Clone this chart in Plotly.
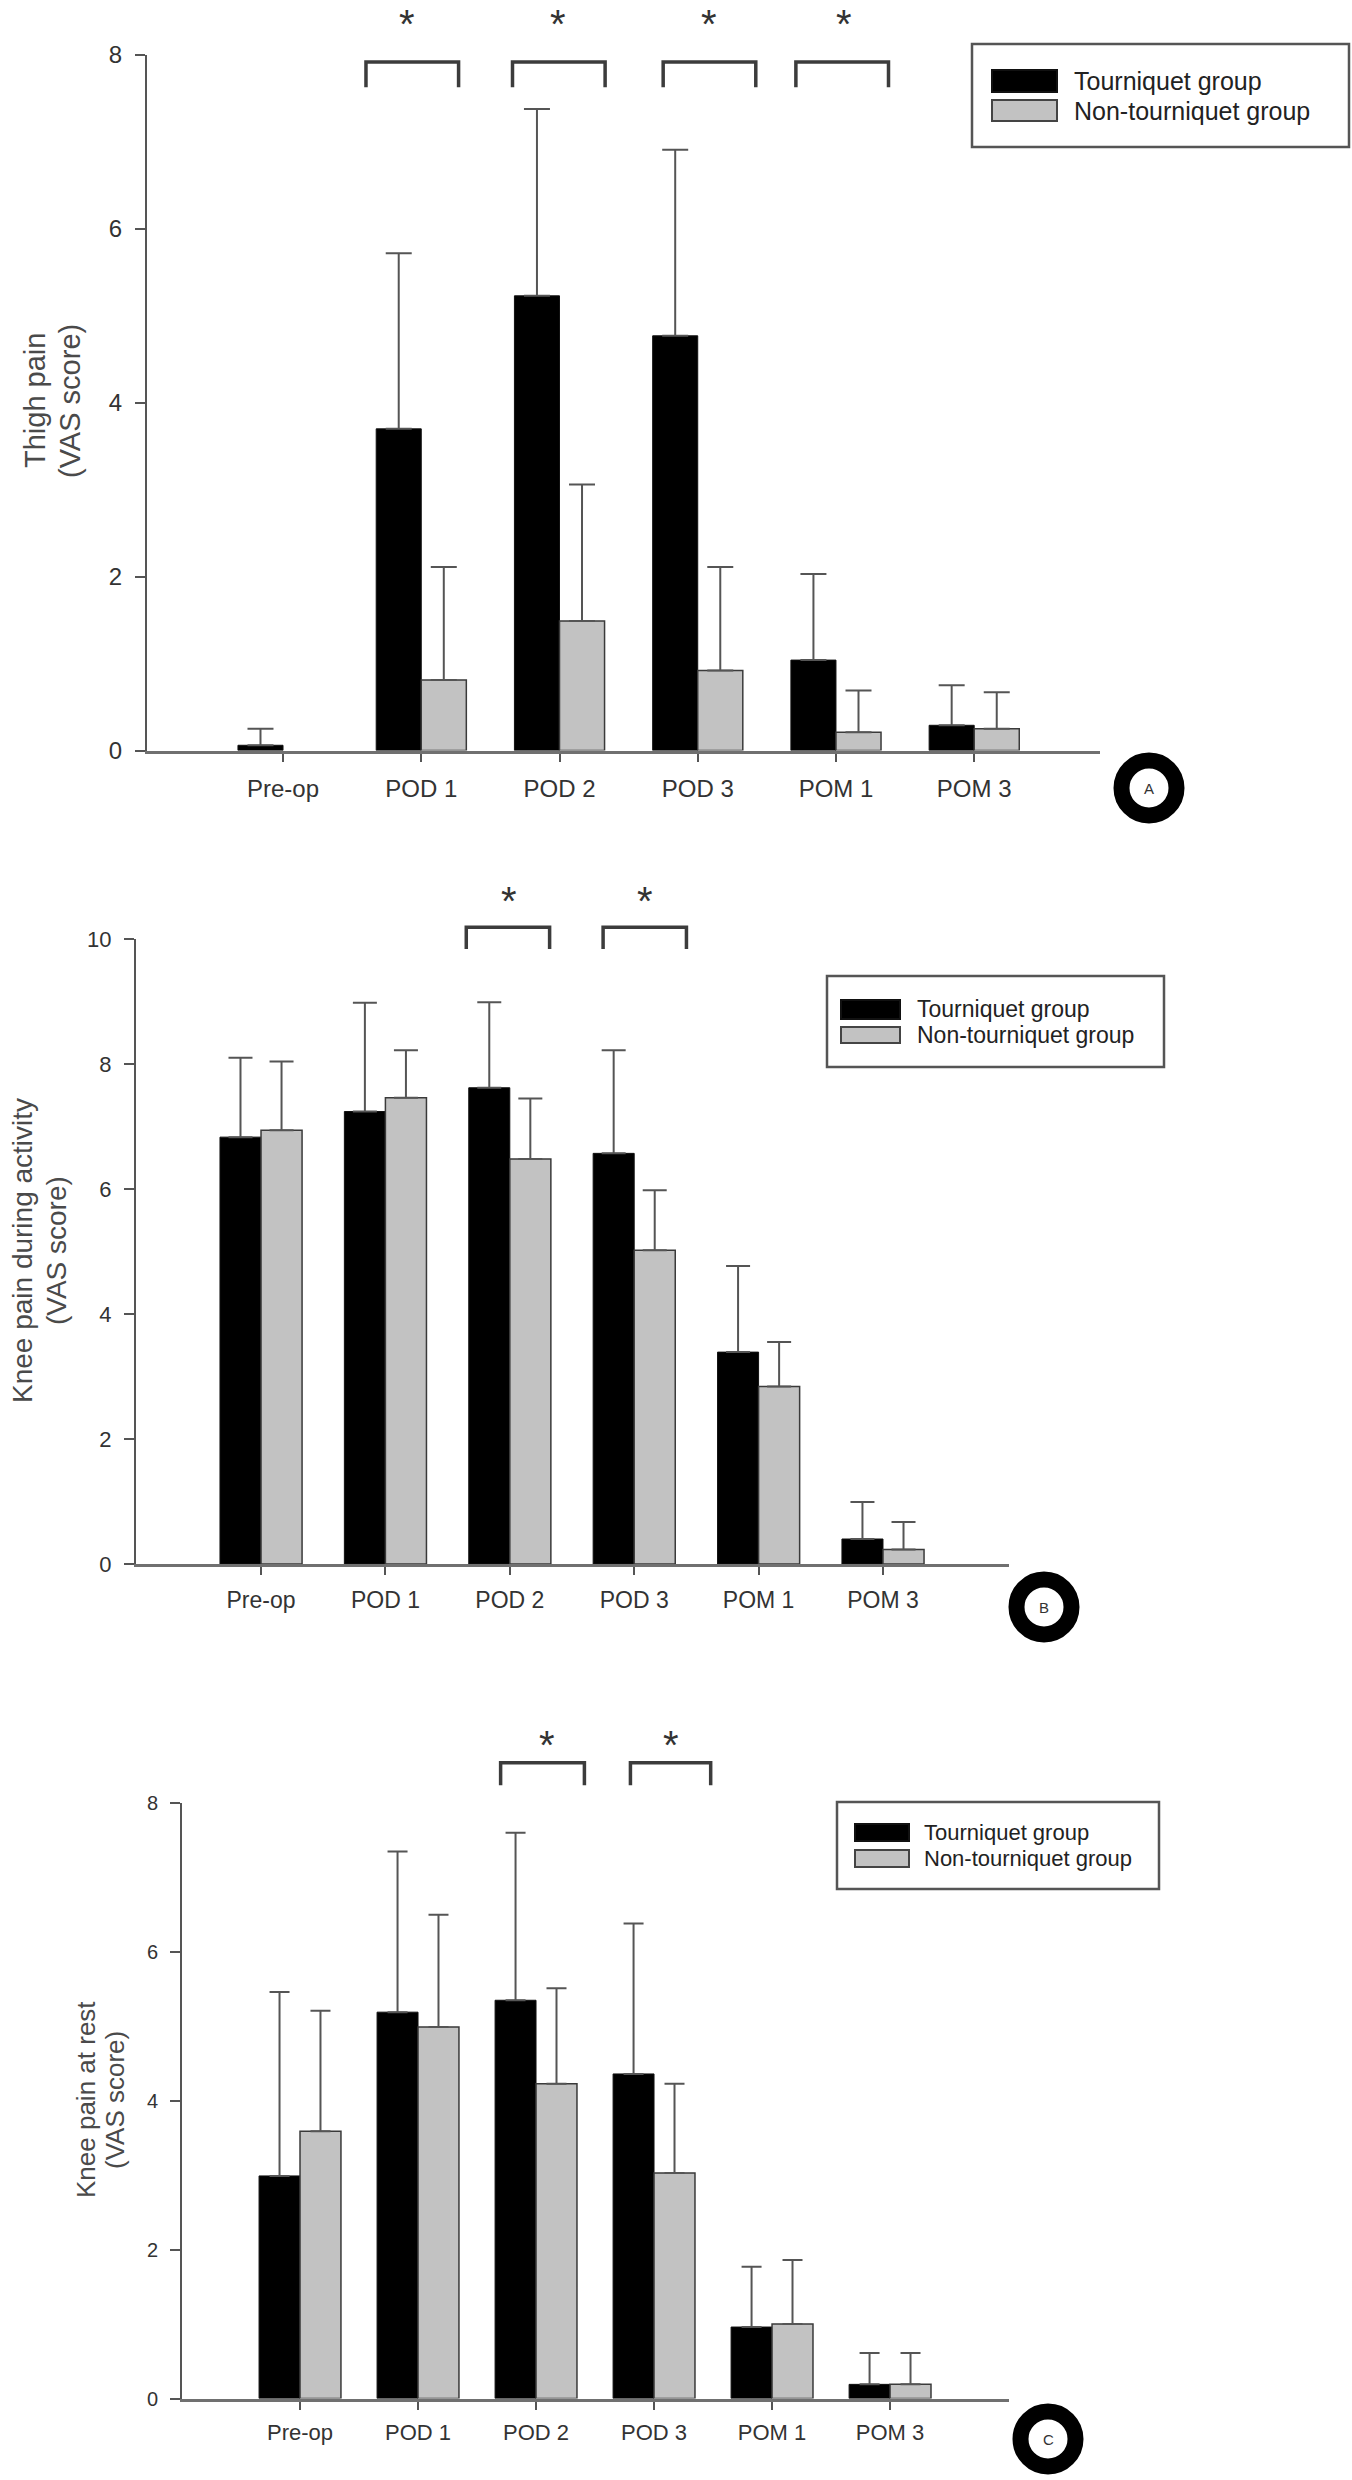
import plotly.graph_objects as go

W, H = 1352, 2480
FONT = "Liberation Sans, Arial, sans-serif"

# ---------------- data ----------------
categories = ["Pre-op", "POD 1", "POD 2", "POD 3", "POM 1", "POM 3"]
group_names = ["Tourniquet group", "Non-tourniquet group"]

# (A) Thigh pain (VAS)
thigh_tq = [0.06, 3.70, 5.23, 4.77, 1.04, 0.29]
thigh_tq_sd = [0.19, 2.02, 2.15, 2.14, 0.99, 0.46]
thigh_ntq = [None, 0.81, 1.49, 0.92, 0.21, 0.25]
thigh_ntq_sd = [None, 1.30, 1.57, 1.19, 0.48, 0.42]

# (B) Knee pain during activity (VAS)
act_tq = [6.83, 7.24, 7.62, 6.57, 3.39, 0.40]
act_tq_sd = [1.27, 1.74, 1.37, 1.65, 1.38, 0.59]
act_ntq = [6.94, 7.46, 6.48, 5.02, 2.84, 0.23]
act_ntq_sd = [1.10, 0.76, 0.97, 0.96, 0.71, 0.44]

# (C) Knee pain at rest (VAS)
rest_tq = [2.99, 5.19, 5.35, 4.36, 0.96, 0.19]
rest_tq_sd = [2.47, 2.16, 2.25, 2.02, 0.81, 0.42]
rest_ntq = [3.59, 4.99, 4.23, 3.03, 1.00, 0.19]
rest_ntq_sd = [1.62, 1.51, 1.28, 1.20, 0.86, 0.42]

# significance brackets (category units) and stars
thigh_sig_left = [0.60, 1.66, 2.75, 3.71]
thigh_sig_right = [1.27, 2.33, 3.42, 4.38]
thigh_star_x = [0.90, 1.99, 3.08, 4.06]
act_sig_left = [1.65, 2.75]
act_sig_right = [2.32, 3.42]
act_star_x = [1.99, 3.09]
rest_sig_left = [1.70, 2.80]
rest_sig_right = [2.41, 3.48]
rest_star_x = [2.09, 3.14]

y_ticks_a = [0, 2, 4, 6, 8]
y_ticks_b = [0, 2, 4, 6, 8, 10]
y_ticks_c = [0, 2, 4, 6, 8]

# ---------------- layout config ----------------
panels = [
    dict(sfx="", tq=thigh_tq, tq_sd=thigh_tq_sd, ntq=thigh_ntq, ntq_sd=thigh_ntq_sd,
         sl=thigh_sig_left, sr=thigh_sig_right, sx=thigh_star_x, yticks=y_ticks_a,
         xpx=(147, 1100), ypx=(750.5, 55), ymax=8, xr=[-0.984, 5.91], bw=0.326, cap=13,
         tfs=24, xfs=24, xso=7, br=(7.92, 7.63, 8.44),
         title=["Thigh pain", "(VAS score)"], tx=[35, 70], ty=401, tsz=29,
         leg=dict(box=(972, 44, 1349, 147), sw=(992, 1057), rows=[(70, 92), (100, 121)], tx=1072, fs=25),
         circ=(1149, 788, "A")),
    dict(sfx="2", tq=act_tq, tq_sd=act_tq_sd, ntq=act_ntq, ntq_sd=act_ntq_sd,
         sl=act_sig_left, sr=act_sig_right, sx=act_star_x, yticks=y_ticks_b,
         xpx=(136, 1009), ypx=(1564, 939), ymax=10, xr=[-1.005, 6.013], bw=0.33, cap=12,
         tfs=22, xfs=23, xso=5, br=(10.19, 9.84, 10.72),
         title=["Knee pain during activity", "(VAS score)"], tx=[22, 56], ty=1251, tsz=28,
         leg=dict(box=(827, 976, 1164, 1067), sw=(841, 900), rows=[(1000, 1019), (1027, 1043)], tx=915, fs=23),
         circ=(1044, 1607, "B")),
    dict(sfx="3", tq=rest_tq, tq_sd=rest_tq_sd, ntq=rest_ntq, ntq_sd=rest_ntq_sd,
         sl=rest_sig_left, sr=rest_sig_right, sx=rest_star_x, yticks=y_ticks_c,
         xpx=(182, 1009), ypx=(2398.5, 1803), ymax=8, xr=[-1.0, 6.008], bw=0.347, cap=10,
         tfs=20, xfs=22, xso=4, br=(8.54, 8.24, 8.87),
         title=["Knee pain at rest", "(VAS score)"], tx=[86, 115], ty=2100, tsz=26,
         leg=dict(box=(837, 1802, 1159, 1889), sw=(855, 909), rows=[(1824, 1841), (1850, 1867)], tx=922, fs=22),
         circ=(1048, 2439, "C")),
]


def px(x):
    return x / W


def py(y):
    return 1 - y / H


fig = go.Figure()
shapes, annots = [], []
layout_axes = {}

for p in panels:
    xa, ya = "x" + p["sfx"], "y" + p["sfx"]
    w = p["bw"]
    xs = list(range(len(categories)))
    fig.add_trace(go.Bar(
        x=xs, y=p["tq"], width=w, offset=-w, name=group_names[0],
        marker=dict(color="#000000", line=dict(color="#111111", width=1)),
        error_y=dict(type="data", symmetric=False, array=p["tq_sd"],
                     arrayminus=[0] * len(xs), color="#555555", thickness=2, width=p["cap"]),
        xaxis=xa, yaxis=ya, showlegend=False))
    fig.add_trace(go.Bar(
        x=xs, y=p["ntq"], width=w, offset=0, name=group_names[1],
        marker=dict(color="#c2c2c2", line=dict(color="#3a3a3a", width=1.5)),
        error_y=dict(type="data", symmetric=False, array=p["ntq_sd"],
                     arrayminus=[0] * len(xs), color="#555555", thickness=2, width=p["cap"]),
        xaxis=xa, yaxis=ya, showlegend=False))

    d0, d1 = py(p["ypx"][0]), py(p["ypx"][1])
    layout_axes["xaxis" + p["sfx"]] = dict(
        domain=[px(p["xpx"][0]), px(p["xpx"][1])], range=p["xr"], anchor=ya,
        automargin=False, fixedrange=True,
        tickvals=xs, ticktext=categories, showline=True, linecolor="#707070", linewidth=3,
        ticks="outside", ticklen=8, tickwidth=2, tickcolor="#555555", showgrid=False,
        zeroline=False, ticklabelstandoff=p["xso"],
        tickfont=dict(family=FONT, size=p["xfs"], color="#333333"))
    layout_axes["yaxis" + p["sfx"]] = dict(
        domain=[d0, d1], range=[0, p["ymax"]], anchor=xa, tickvals=p["yticks"],
        automargin=False, fixedrange=True,
        showline=True, linecolor="#555555", linewidth=2, ticks="outside", ticklen=10,
        tickwidth=2, tickcolor="#555555", showgrid=False, zeroline=False,
        ticklabelstandoff=8, tickfont=dict(family=FONT, size=p["tfs"], color="#333333"))

    def yv(v, d0=d0, d1=d1, ym=p["ymax"]):
        return d0 + v / ym * (d1 - d0)

    top, bot, star_y = p["br"]
    for l, r, s in zip(p["sl"], p["sr"], p["sx"]):
        shapes.append(dict(type="path", xref=xa, yref="paper",
                           path=f"M {l},{yv(bot)} L {l},{yv(top)} L {r},{yv(top)} L {r},{yv(bot)}",
                           line=dict(color="#3c3c3c", width=3.5)))
        annots.append(dict(x=s, y=yv(star_y), xref=xa, yref="paper", text="*",
                           showarrow=False, xanchor="center", yanchor="middle", yshift=-7,
                           font=dict(family=FONT, size=40, color="#333333")))

    # y-axis title (two lines)
    for txt, tx in zip(p["title"], p["tx"]):
        annots.append(dict(x=px(tx), y=py(p["ty"]), xref="paper", yref="paper", text=txt,
                           textangle=-90, showarrow=False, xanchor="center", yanchor="middle",
                           font=dict(family=FONT, size=p["tsz"], color="#4a4a4a")))

    # legend box
    lg = p["leg"]
    bx0, by0, bx1, by1 = lg["box"]
    shapes.append(dict(type="rect", xref="paper", yref="paper", x0=px(bx0), x1=px(bx1),
                       y0=py(by1), y1=py(by0), line=dict(color="#555555", width=2.5),
                       fillcolor="white"))
    fills = ["#000000", "#c2c2c2"]
    edges = ["#111111", "#444444"]
    for (r0, r1), name, fc, ec in zip(lg["rows"], group_names, fills, edges):
        shapes.append(dict(type="rect", xref="paper", yref="paper", x0=px(lg["sw"][0]),
                           x1=px(lg["sw"][1]), y0=py(r1), y1=py(r0),
                           line=dict(color=ec, width=2), fillcolor=fc))
        annots.append(dict(x=px(lg["tx"]), y=py((r0 + r1) / 2), xref="paper", yref="paper",
                           text=name, showarrow=False, xanchor="left", yanchor="middle",
                           font=dict(family=FONT, size=lg["fs"], color="#222222")))

    # panel letter in a black ring
    cx, cy, letter = p["circ"]
    rr = 27.5
    shapes.append(dict(type="circle", xref="paper", yref="paper", x0=px(cx - rr), x1=px(cx + rr),
                       y0=py(cy + rr), y1=py(cy - rr), line=dict(color="#000000", width=16),
                       fillcolor="white"))
    annots.append(dict(x=px(cx), y=py(cy), xref="paper", yref="paper", text=letter,
                       showarrow=False, xanchor="center", yanchor="middle",
                       font=dict(family=FONT, size=15, color="#333333")))

fig.update_layout(
    width=W, height=H, margin=dict(l=0, r=0, t=0, b=0, autoexpand=False),
    paper_bgcolor="white", plot_bgcolor="white", barmode="overlay",
    font=dict(family=FONT, color="#333333"),
    shapes=shapes, annotations=annots, **layout_axes)

fig.write_html("out.html", config={"displayModeBar": False},
               post_script="document.body.style.margin='0';document.body.style.padding='0';")
